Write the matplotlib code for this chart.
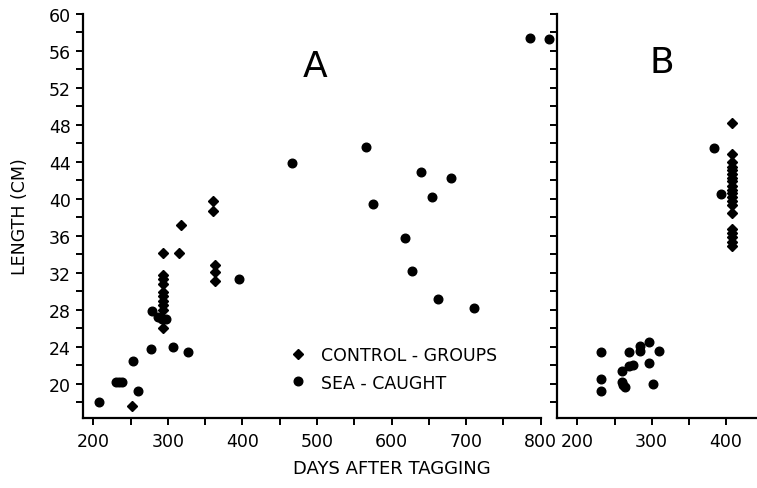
import matplotlib
matplotlib.use("Agg")
import matplotlib.pyplot as plt
from matplotlib.ticker import MultipleLocator

# ---- data ----
a_ctrl_days = [251.5, 294, 315, 294, 294, 294, 294, 294, 294, 294, 294, 294,
               363, 363, 363, 361, 361, 317]
a_ctrl_len = [17.65, 34.2, 34.2, 31.8, 31.3, 30.8, 29.9, 29.5, 29.0, 28.5, 28.0, 26.0,
              32.9, 32.1, 31.1, 39.8, 38.7, 37.2]

a_sea_days = [208, 231, 235, 239, 253.6, 260, 277.5, 307, 327, 278.3, 287, 291.7, 297.5,
              395.8, 467, 566, 574.7, 617.6, 627.8, 639.5, 654.2, 661.8, 679.3, 710,
              785.6, 811]
a_sea_len = [18.1, 20.25, 20.25, 20.25, 22.5, 19.2, 23.75, 24.05, 23.5, 27.9, 27.2, 27.0, 27.0,
             31.3, 43.9, 45.6, 39.5, 35.75, 32.2, 42.9, 40.25, 29.2, 42.3, 28.25,
             57.4, 57.3]

b_ctrl_days = [407.7] * 20
b_ctrl_len = [48.2, 44.9, 44.0, 43.5, 43.1, 42.7, 42.3, 41.9, 41.4, 41.0, 40.6, 40.2,
              39.75, 39.3, 38.45, 36.8, 36.3, 35.9, 35.4, 34.95]

b_sea_days = [231.5, 231.5, 231.5, 269.5, 259.7, 259.7, 262, 264.2, 269.5, 275.3,
              284.7, 284.7, 296.6, 296.6, 310.3, 301.4, 384, 393.3]
b_sea_len = [23.5, 20.5, 19.2, 23.5, 21.4, 20.2, 19.9, 19.7, 21.9, 22.1,
             24.1, 23.6, 24.5, 22.3, 23.6, 20.0, 45.5, 40.5]

y_ticks = [20, 24, 28, 32, 36, 40, 44, 48, 52, 56, 60]
a_xticks = [200, 300, 400, 500, 600, 700, 800]
b_xticks = [200, 300, 400]

ctrl_label = "CONTROL - GROUPS"
sea_label = "SEA - CAUGHT"

# ---- figure ----
W, H = 757, 489
fig = plt.figure(figsize=(W / 100, H / 100), dpi=100)
plt.rcParams['font.family'] = ['DejaVu Sans']

top_px, bot_px = 15, 419
axA = fig.add_axes([82.7 / W, (H - bot_px) / H, (540.7 - 82.7) / W, (bot_px - top_px) / H])
axB = fig.add_axes([557.3 / W, (H - bot_px) / H, (757 - 557.3) / W, (bot_px - top_px) / H])

ms_d = 5.6
ms_o = 6.2
for ax, cd, cl, sd, sl in [(axA, a_ctrl_days, a_ctrl_len, a_sea_days, a_sea_len),
                           (axB, b_ctrl_days, b_ctrl_len, b_sea_days, b_sea_len)]:
    ax.plot(cd, cl, linestyle='none', marker='D', markersize=ms_d, color='black',
            clip_on=False, label=ctrl_label)
    ax.plot(sd, sl, linestyle='none', marker='o', markersize=ms_o, color='black',
            clip_on=False, label=sea_label)
    ax.set_ylim(16.32, 60)
    ax.set_yticks(y_ticks)
    ax.yaxis.set_minor_locator(MultipleLocator(2))
    ax.xaxis.set_minor_locator(MultipleLocator(50))
    for s in ['top', 'right']:
        ax.spines[s].set_visible(False)
    for s in ['left', 'bottom']:
        ax.spines[s].set_linewidth(1.6)
    ax.tick_params(which='both', direction='out', length=5, width=1.4, colors='black',
                   labelsize=12.5)
    ax.tick_params(axis='x', pad=5)
    ax.set_facecolor('none')

axA.set_xlim(185.8, 800)
axA.set_xticks(a_xticks)
axB.set_xlim(173, 441.7)
axB.set_xticks(b_xticks)
axB.tick_params(axis='y', labelleft=False)

axA.set_ylabel("LENGTH (CM)", fontsize=12.5, labelpad=14)
fig.text(392 / W, 1 - 469 / H, "DAYS AFTER TAGGING", fontsize=13, ha='center', va='center')

axA.text(497, 54.4, "A", fontsize=26, ha='center', va='center')
axB.text(314, 54.8, "B", fontsize=26, ha='center', va='center')

leg = axA.legend(loc='upper left', bbox_to_anchor=((289.3 - 82.7) / 458, (419 - 347) / 404),
                 frameon=False, borderpad=0, borderaxespad=0, handlelength=1.0,
                 handletextpad=0.8, labelspacing=0.55, fontsize=12.5, markerscale=1.0)

fig.savefig("out.png", dpi=100)
